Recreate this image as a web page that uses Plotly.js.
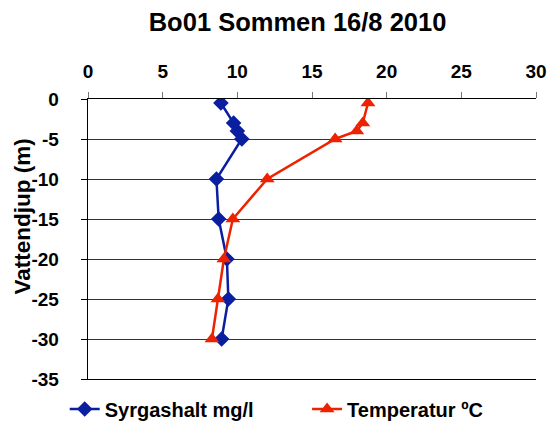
<!DOCTYPE html>
<html><head><meta charset="utf-8">
<script src="https://cdn.plot.ly/plotly-3.0.1.min.js"></script>
<style>html,body{margin:0;padding:0;background:#fff}#c{width:551px;height:426px}</style>
</head><body><div id="c"></div>
<script>
const depth = [-0.5, -3, -4, -5, -10, -15, -20, -25, -30];
const oxygen = [8.9, 9.75, 10.0, 10.3, 8.6, 8.75, 9.3, 9.4, 8.95];
const temperature = [18.75, 18.4, 18.0, 16.55, 12.0, 9.7, 9.1, 8.7, 8.3];
const xTicks = [0, 5, 10, 15, 20, 25, 30];
const yTicks = [0, -5, -10, -15, -20, -25, -30, -35];

const F = 'Liberation Sans, Arial, sans-serif';
const traces = [
  {x: oxygen, y: depth, name: 'Syrgashalt mg/l', mode: 'lines+markers', legend: 'legend',
   line: {color: '#0a1fa0', width: 2.5}, marker: {symbol: 'diamond', size: 12, color: '#0a1fa0'}},
  {x: temperature, y: depth, name: 'Temperatur ºC', mode: 'lines+markers', legend: 'legend2',
   line: {color: '#ee2200', width: 2.5}, marker: {symbol: 'triangle-up', size: 13, color: '#ee2200'}}
];
const legFont = {family: F, size: 20, color: '#000', weight: 'bold'};
const layout = {
  width: 551, height: 426,
  margin: {l: 87.5, r: 15, t: 99.3, b: 47, autoexpand: false},
  paper_bgcolor: '#fff', plot_bgcolor: '#fff',
  showlegend: true,
  title: {text: 'Bo01 Sommen 16/8 2010', font: {family: F, size: 25.5, color: '#000', weight: 'bold'}, x: 0.54, xanchor: 'center', y: 0.948, yanchor: 'middle'},
  xaxis: {side: 'top', range: [0, 30], tickvals: xTicks, ticktext: xTicks.map(String),
    showgrid: false, zeroline: false, showline: true, linecolor: '#000', linewidth: 1.3, mirror: true,
    ticks: 'outside', ticklen: 6, tickcolor: '#777', tickwidth: 1, ticklabelstandoff: 6,
    tickfont: {family: F, size: 19, color: '#000', weight: 'bold'}},
  yaxis: {range: [-35, 0], tickvals: yTicks, ticktext: yTicks.map(String),
    showgrid: true, gridcolor: '#333', gridwidth: 1, zeroline: false,
    showline: true, linecolor: '#000', linewidth: 1.3,
    ticks: 'outside', ticklen: 6, tickcolor: '#000', ticklabelstandoff: 18,
    tickfont: {family: F, size: 19, color: '#000', weight: 'bold'}},
  legend: {orientation: 'h', x: -0.052, xanchor: 'left', y: -0.107, yanchor: 'middle',
    font: legFont, bgcolor: 'rgba(0,0,0,0)'},
  legend2: {orientation: 'h', x: 0.489, xanchor: 'left', y: -0.107, yanchor: 'middle',
    font: legFont, bgcolor: 'rgba(0,0,0,0)'},
  annotations: [{text: 'Vattendjup (m)', textangle: -90, xref: 'paper', yref: 'paper', x: -0.146, y: 0.579,
    xanchor: 'center', yanchor: 'middle', showarrow: false,
    font: {family: F, size: 22.5, color: '#000', weight: 'bold'}}]
};
Plotly.newPlot('c', traces, layout, {displayModeBar: false, staticPlot: true});
</script></body></html>
